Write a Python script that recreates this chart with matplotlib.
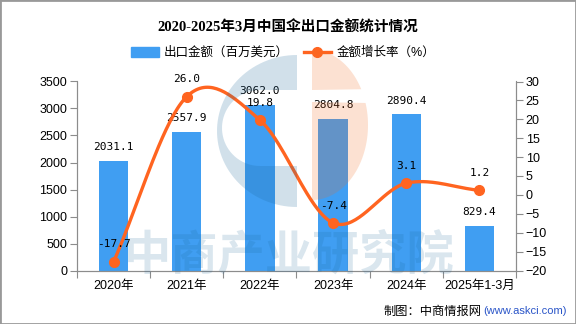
import numpy as np
from matplotlib import pyplot as plt
from matplotlib.patches import Patch, Polygon, Rectangle
from matplotlib.lines import Line2D

plt.rcParams['font.family'] = ['Liberation Sans', 'Noto Sans CJK SC']
plt.rcParams['axes.unicode_minus'] = True

# data
years = ['2020年', '2021年', '2022年', '2023年', '2024年', '2025年1-3月']
amount = [2031.1, 2557.9, 3062.0, 2804.8, 2890.4, 829.4]      # 百万美元
growth = [-17.7, 26.0, 19.8, -7.4, 3.1, 1.2]                  # %

bar_c = '#409ef2'
line_c = '#ff6420'
gray = '#8c8c8c'


def smooth(xs, ys, n=40):
    # catmull-rom through the points, just for drawing the curve
    p = np.column_stack([xs, ys]).astype(float)
    p = np.vstack([2*p[0]-p[1], p, 2*p[-1]-p[-2]])
    t = np.linspace(0, 1, n)[:, None]
    out = []
    for i in range(1, len(p)-2):
        p0, p1, p2, p3 = p[i-1], p[i], p[i+1], p[i+2]
        seg = 0.5*(2*p1 + (-p0+p2)*t + (2*p0-5*p1+4*p2-p3)*t**2
                   + (-p0+3*p1-3*p2+p3)*t**3)
        out.append(seg)
    out = np.vstack(out)
    return out[:, 0], out[:, 1]


fig = plt.figure(figsize=(5.76, 3.24), dpi=100)
ax = fig.add_axes([77/576, 1-270.5/324, 439/576, 189/324])
ax2 = ax.twinx()

x = np.arange(len(years))
ax.bar(x, amount, width=0.4, color=bar_c, zorder=2)
for xi, v in zip(x, amount):
    ax.annotate('%.1f' % v, (xi, v), xytext=(0, 10), textcoords='offset points',
                ha='center', va='center', fontsize=8, family='DejaVu Sans Mono')

sx, sy = smooth(x, growth)
ax2.plot(sx, sy, color=line_c, lw=2.4, solid_capstyle='round', zorder=3)
ax2.plot(x, growth, 'o', color=line_c, ms=7, zorder=4)
for xi, v in zip(x, growth):
    ax2.annotate('%.1f' % v, (xi, v), xytext=(0, 12.5), textcoords='offset points',
                 ha='center', va='center', fontsize=8, family='DejaVu Sans Mono')

ax.set_xlim(-0.5, 5.5)
ax.set_ylim(0, 3500)
ax.set_yticks(np.arange(0, 3501, 500))
ax2.set_ylim(-20, 30)
ax2.set_yticks(np.arange(-20, 31, 5))

ax.set_xticks(np.arange(-0.5, 5.6, 1))
ax.set_xticklabels([])
ax.set_xticks(x, minor=True)
ax.set_xticklabels(years, minor=True, fontsize=9)
ax.tick_params(axis='x', which='minor', length=0, pad=7)
ax.tick_params(axis='x', which='major', length=5, color=gray)

for a in (ax, ax2):
    for s in a.spines.values():
        s.set_color(gray)
    a.spines['top'].set_visible(False)
ax.tick_params(axis='y', length=5, color=gray, labelsize=9, pad=2)
ax2.tick_params(axis='y', length=5, color=gray, labelsize=9, pad=2)

# title and legend
fig.text(0.5, 1-27.5/324, '2020-2025年3月中国伞出口金额统计情况', ha='center', va='center',
         fontsize=10.5, fontweight='bold', family=['Liberation Serif', 'Noto Sans CJK SC'])
handles = [Patch(color=bar_c),
           Line2D([], [], color=line_c, lw=2.4, marker='o', ms=7)]
fig.legend(handles, ['出口金额（百万美元）', '金额增长率（%）'], loc='center',
           bbox_to_anchor=(283/576, 1-53/324), ncol=2, frameon=False, fontsize=9,
           handlelength=2.2, handleheight=0.9, columnspacing=1.2, handletextpad=0.4)

# watermark logo + text, drawn in pixel coords on an overlay
wm = fig.add_axes([0, 0, 1, 1], zorder=10)
wm.set_xlim(0, 576)
wm.set_ylim(324, 0)
wm.axis('off')
wm.patch.set_alpha(0)

wm_blue = (0.1, 0.4, 0.6)
wm_orange = (0.95, 0.42, 0.12)

a = np.linspace(np.pi/2, 3*np.pi/2, 60)
outer = np.column_stack([297 + 80*np.cos(a), 131 - 76*np.sin(a)])
b = np.linspace(3*np.pi/2, np.pi/2, 40)
inner = np.column_stack([260 + 38*np.cos(b), 128 - 38*np.sin(b)])
c_shape = np.vstack([[297, 55], outer, [297, 207], [297, 166], [260, 166],
                     inner, [260, 90], [297, 90]])
wm.add_patch(Polygon(c_shape, closed=True, color=wm_blue, alpha=0.2, lw=0))

# orange half disc with a slit
d = np.linspace(np.pi/2, -np.pi/2, 80)
half = np.column_stack([312 + 56*np.cos(d), 125 - 75*np.sin(d)])
top = half[half[:, 1] < 90]
bot = half[half[:, 1] > 102]
wm.add_patch(Polygon(np.vstack([top, [312, 90]]), closed=True,
                     color=wm_orange, alpha=0.2, lw=0))
wm.add_patch(Polygon(np.vstack([[312, 102], bot]), closed=True,
                     color=wm_orange, alpha=0.2, lw=0))
wm.text(289, 255, '中商产业研究院', ha='center', va='center', fontsize=34,
        fontweight='bold', family='Noto Sans CJK SC', color=wm_blue, alpha=0.16)

# source
fig.text(482/576, 1-311/324, '制图：中商情报网', ha='right', va='center', fontsize=8.8,
         family='Noto Sans CJK SC')
fig.text(483/576, 1-311/324, '(www.askci.com)', ha='left', va='center', fontsize=8,
         color='#2a55c8')

fig.patches.append(Rectangle((0, 0), 1, 1, transform=fig.transFigure, fill=False,
                             edgecolor='#999999', lw=2))

fig.savefig('out.png', dpi=100)
